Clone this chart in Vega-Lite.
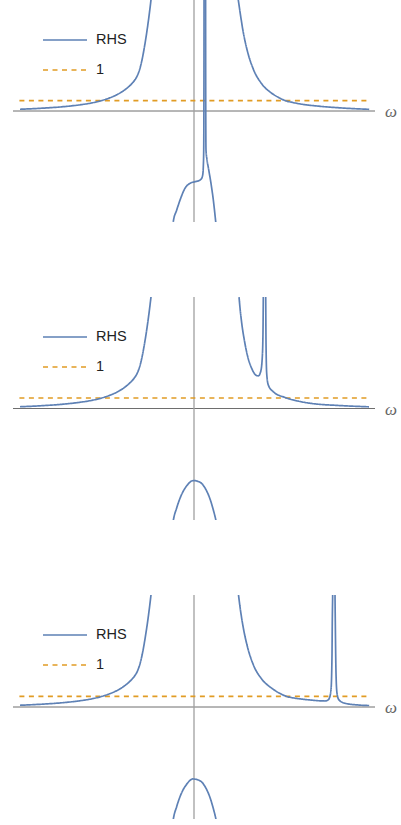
{
  "$schema": "https://vega.github.io/schema/vega-lite/v6.json",
  "padding": {"left": 13, "top": 0, "right": 0, "bottom": 0},
  "background": "white",
  "config": {"view": {"stroke": null}, "concat": {"spacing": 75}},
  "datasets": {
    "p1": [
      {"s":"1","b":"D","w":-3,"y":1},{"s":"1","b":"D","w":3,"y":1},
      {"s":"RHS","b":"L","w":-2.99,"y":0.165},{"s":"RHS","b":"L","w":-2.6,"y":0.27},{"s":"RHS","b":"L","w":-2.25,"y":0.41},{"s":"RHS","b":"L","w":-1.96,"y":0.59},{"s":"RHS","b":"L","w":-1.75,"y":0.78},{"s":"RHS","b":"L","w":-1.586,"y":1.0},{"s":"RHS","b":"L","w":-1.45,"y":1.25},{"s":"RHS","b":"L","w":-1.33,"y":1.54},{"s":"RHS","b":"L","w":-1.23,"y":1.86},{"s":"RHS","b":"L","w":-1.15,"y":2.19},{"s":"RHS","b":"L","w":-1.08,"y":2.55},{"s":"RHS","b":"L","w":-1.02,"y":2.94},{"s":"RHS","b":"L","w":-0.97,"y":3.42},{"s":"RHS","b":"L","w":-0.925,"y":4.14},{"s":"RHS","b":"L","w":-0.885,"y":5.1},{"s":"RHS","b":"L","w":-0.85,"y":6.17},{"s":"RHS","b":"L","w":-0.815,"y":7.39},{"s":"RHS","b":"L","w":-0.785,"y":8.56},{"s":"RHS","b":"L","w":-0.751,"y":10.04},{"s":"RHS","b":"L","w":-0.725,"y":11.29},
      {"s":"RHS","b":"R","w":0.735,"y":11.6},{"s":"RHS","b":"R","w":0.761,"y":10.6},{"s":"RHS","b":"R","w":0.79,"y":9.5},{"s":"RHS","b":"R","w":0.847,"y":7.5},{"s":"RHS","b":"R","w":0.916,"y":5.75},{"s":"RHS","b":"R","w":1.019,"y":4.0},{"s":"RHS","b":"R","w":1.163,"y":2.6},{"s":"RHS","b":"R","w":1.335,"y":1.7},{"s":"RHS","b":"R","w":1.45,"y":1.3},{"s":"RHS","b":"R","w":1.564,"y":1.0},{"s":"RHS","b":"R","w":1.7,"y":0.81},{"s":"RHS","b":"R","w":1.821,"y":0.68},{"s":"RHS","b":"R","w":2.165,"y":0.45},{"s":"RHS","b":"R","w":2.509,"y":0.3},{"s":"RHS","b":"R","w":3.01,"y":0.16},
      {"s":"RHS","b":"ML","w":-0.37,"y":-11.2},{"s":"RHS","b":"ML","w":-0.356,"y":-10.57},{"s":"RHS","b":"ML","w":-0.297,"y":-9.46},{"s":"RHS","b":"ML","w":-0.229,"y":-8.34},{"s":"RHS","b":"ML","w":-0.155,"y":-7.38},{"s":"RHS","b":"ML","w":-0.069,"y":-6.91},{"s":"RHS","b":"ML","w":0.017,"y":-6.75},{"s":"RHS","b":"ML","w":0.09,"y":-6.63},{"s":"RHS","b":"ML","w":0.13,"y":-6.45},{"s":"RHS","b":"ML","w":0.15,"y":-6.1},{"s":"RHS","b":"ML","w":0.16,"y":-5.32},{"s":"RHS","b":"ML","w":0.167,"y":-3.72},{"s":"RHS","b":"ML","w":0.17,"y":0},{"s":"RHS","b":"ML","w":0.172,"y":6},{"s":"RHS","b":"ML","w":0.173,"y":12},
      {"s":"RHS","b":"MR","w":0.199,"y":12},{"s":"RHS","b":"MR","w":0.2,"y":6},{"s":"RHS","b":"MR","w":0.202,"y":0},{"s":"RHS","b":"MR","w":0.206,"y":-3.72},{"s":"RHS","b":"MR","w":0.222,"y":-4.6},{"s":"RHS","b":"MR","w":0.246,"y":-5.4},{"s":"RHS","b":"MR","w":0.292,"y":-6.91},{"s":"RHS","b":"MR","w":0.332,"y":-8.5},{"s":"RHS","b":"MR","w":0.373,"y":-10.57},{"s":"RHS","b":"MR","w":0.385,"y":-11.2}
    ],
    "p2": [
      {"s":"1","b":"D","w":-3,"y":1},{"s":"1","b":"D","w":3,"y":1},
      {"s":"RHS","b":"L","w":-2.99,"y":0.165},{"s":"RHS","b":"L","w":-2.6,"y":0.27},{"s":"RHS","b":"L","w":-2.25,"y":0.41},{"s":"RHS","b":"L","w":-1.96,"y":0.59},{"s":"RHS","b":"L","w":-1.75,"y":0.78},{"s":"RHS","b":"L","w":-1.586,"y":1.0},{"s":"RHS","b":"L","w":-1.45,"y":1.25},{"s":"RHS","b":"L","w":-1.33,"y":1.54},{"s":"RHS","b":"L","w":-1.23,"y":1.86},{"s":"RHS","b":"L","w":-1.15,"y":2.19},{"s":"RHS","b":"L","w":-1.08,"y":2.55},{"s":"RHS","b":"L","w":-1.02,"y":2.94},{"s":"RHS","b":"L","w":-0.97,"y":3.42},{"s":"RHS","b":"L","w":-0.925,"y":4.14},{"s":"RHS","b":"L","w":-0.885,"y":5.1},{"s":"RHS","b":"L","w":-0.85,"y":6.17},{"s":"RHS","b":"L","w":-0.815,"y":7.39},{"s":"RHS","b":"L","w":-0.785,"y":8.56},{"s":"RHS","b":"L","w":-0.751,"y":10.04},{"s":"RHS","b":"L","w":-0.725,"y":11.29},
      {"s":"RHS","b":"M","w":-0.37,"y":-11.2},{"s":"RHS","b":"M","w":-0.356,"y":-10.67},{"s":"RHS","b":"M","w":-0.297,"y":-9.45},{"s":"RHS","b":"M","w":-0.211,"y":-8.15},{"s":"RHS","b":"M","w":-0.125,"y":-7.35},{"s":"RHS","b":"M","w":-0.012,"y":-6.85},{"s":"RHS","b":"M","w":0.103,"y":-7.01},{"s":"RHS","b":"M","w":0.189,"y":-7.55},{"s":"RHS","b":"M","w":0.275,"y":-8.6},{"s":"RHS","b":"M","w":0.33,"y":-9.6},{"s":"RHS","b":"M","w":0.378,"y":-10.67},{"s":"RHS","b":"M","w":0.39,"y":-11.0},
      {"s":"RHS","b":"RA","w":0.755,"y":12},{"s":"RHS","b":"RA","w":0.773,"y":10.66},{"s":"RHS","b":"RA","w":0.79,"y":9.6},{"s":"RHS","b":"RA","w":0.82,"y":8.11},{"s":"RHS","b":"RA","w":0.864,"y":6.53},{"s":"RHS","b":"RA","w":0.923,"y":4.93},{"s":"RHS","b":"RA","w":0.991,"y":3.82},{"s":"RHS","b":"RA","w":1.06,"y":3.19},{"s":"RHS","b":"RA","w":1.105,"y":3.1},{"s":"RHS","b":"RA","w":1.146,"y":3.51},{"s":"RHS","b":"RA","w":1.174,"y":4.94},{"s":"RHS","b":"RA","w":1.186,"y":7.51},{"s":"RHS","b":"RA","w":1.191,"y":10.66},{"s":"RHS","b":"RA","w":1.193,"y":12},
      {"s":"RHS","b":"RB","w":1.23,"y":12},{"s":"RHS","b":"RB","w":1.232,"y":10.66},{"s":"RHS","b":"RB","w":1.237,"y":6.52},{"s":"RHS","b":"RB","w":1.249,"y":3.34},{"s":"RHS","b":"RB","w":1.277,"y":2.23},{"s":"RHS","b":"RB","w":1.363,"y":1.59},{"s":"RHS","b":"RB","w":1.564,"y":1.05},{"s":"RHS","b":"RB","w":1.792,"y":0.7},{"s":"RHS","b":"RB","w":2.022,"y":0.48},{"s":"RHS","b":"RB","w":2.51,"y":0.28},{"s":"RHS","b":"RB","w":3.007,"y":0.16}
    ],
    "p3": [
      {"s":"1","b":"D","w":-3,"y":1},{"s":"1","b":"D","w":3,"y":1},
      {"s":"RHS","b":"L","w":-2.99,"y":0.165},{"s":"RHS","b":"L","w":-2.6,"y":0.27},{"s":"RHS","b":"L","w":-2.25,"y":0.41},{"s":"RHS","b":"L","w":-1.96,"y":0.59},{"s":"RHS","b":"L","w":-1.75,"y":0.78},{"s":"RHS","b":"L","w":-1.586,"y":1.0},{"s":"RHS","b":"L","w":-1.45,"y":1.25},{"s":"RHS","b":"L","w":-1.33,"y":1.54},{"s":"RHS","b":"L","w":-1.23,"y":1.86},{"s":"RHS","b":"L","w":-1.15,"y":2.19},{"s":"RHS","b":"L","w":-1.08,"y":2.55},{"s":"RHS","b":"L","w":-1.02,"y":2.94},{"s":"RHS","b":"L","w":-0.97,"y":3.42},{"s":"RHS","b":"L","w":-0.925,"y":4.14},{"s":"RHS","b":"L","w":-0.885,"y":5.1},{"s":"RHS","b":"L","w":-0.85,"y":6.17},{"s":"RHS","b":"L","w":-0.815,"y":7.39},{"s":"RHS","b":"L","w":-0.785,"y":8.56},{"s":"RHS","b":"L","w":-0.751,"y":10.04},{"s":"RHS","b":"L","w":-0.725,"y":11.29},
      {"s":"RHS","b":"M","w":-0.37,"y":-11.2},{"s":"RHS","b":"M","w":-0.356,"y":-10.65},{"s":"RHS","b":"M","w":-0.297,"y":-9.42},{"s":"RHS","b":"M","w":-0.211,"y":-8.1},{"s":"RHS","b":"M","w":-0.125,"y":-7.3},{"s":"RHS","b":"M","w":-0.02,"y":-6.81},{"s":"RHS","b":"M","w":0.103,"y":-6.98},{"s":"RHS","b":"M","w":0.189,"y":-7.52},{"s":"RHS","b":"M","w":0.275,"y":-8.57},{"s":"RHS","b":"M","w":0.33,"y":-9.57},{"s":"RHS","b":"M","w":0.378,"y":-10.65},{"s":"RHS","b":"M","w":0.39,"y":-11.0},
      {"s":"RHS","b":"RA","w":0.74,"y":11.8},{"s":"RHS","b":"RA","w":0.765,"y":10.6},{"s":"RHS","b":"RA","w":0.79,"y":9.5},{"s":"RHS","b":"RA","w":0.847,"y":7.5},{"s":"RHS","b":"RA","w":0.916,"y":5.75},{"s":"RHS","b":"RA","w":1.019,"y":4.0},{"s":"RHS","b":"RA","w":1.163,"y":2.65},{"s":"RHS","b":"RA","w":1.335,"y":1.78},{"s":"RHS","b":"RA","w":1.46,"y":1.33},{"s":"RHS","b":"RA","w":1.593,"y":1.0},{"s":"RHS","b":"RA","w":1.72,"y":0.85},{"s":"RHS","b":"RA","w":1.85,"y":0.75},{"s":"RHS","b":"RA","w":2.0,"y":0.66},{"s":"RHS","b":"RA","w":2.15,"y":0.59},{"s":"RHS","b":"RA","w":2.251,"y":0.57},{"s":"RHS","b":"RA","w":2.3,"y":0.65},{"s":"RHS","b":"RA","w":2.325,"y":0.83},{"s":"RHS","b":"RA","w":2.354,"y":1.62},{"s":"RHS","b":"RA","w":2.371,"y":4.81},{"s":"RHS","b":"RA","w":2.376,"y":8.0},{"s":"RHS","b":"RA","w":2.383,"y":10.7},{"s":"RHS","b":"RA","w":2.386,"y":12},
      {"s":"RHS","b":"RB","w":2.421,"y":12},{"s":"RHS","b":"RB","w":2.423,"y":10.6},{"s":"RHS","b":"RB","w":2.428,"y":8.0},{"s":"RHS","b":"RB","w":2.44,"y":3.22},{"s":"RHS","b":"RB","w":2.457,"y":1.31},{"s":"RHS","b":"RB","w":2.491,"y":0.67},{"s":"RHS","b":"RB","w":2.595,"y":0.35},{"s":"RHS","b":"RB","w":2.823,"y":0.19},{"s":"RHS","b":"RB","w":3.01,"y":0.14}
    ]
  },
  "vconcat": [
    {
      "width": 362, "height": 222,
      "layer": [
        {"data": {"values": [{}]}, "mark": {"type": "rule", "clip": true, "color": "#6e6e6e", "strokeWidth": 1}, "encoding": {"y": {"datum": 0, "type": "quantitative", "scale": {"domain": [-10.6, 10.6], "nice": false, "zero": false}, "axis": null}}},
        {"data": {"values": [{}]}, "mark": {"type": "rule", "clip": true, "color": "#a0a0a0", "strokeWidth": 1.3}, "encoding": {"x": {"datum": 0, "type": "quantitative", "scale": {"domain": [-3.11, 3.11], "nice": false, "zero": false}, "axis": null}}},
        {"data": {"name": "p1"}, "mark": {"type": "line", "clip": true, "strokeWidth": 1.7, "interpolate": "monotone"},
         "encoding": {
           "x": {"field": "w", "type": "quantitative", "scale": {"domain": [-3.11, 3.11], "nice": false, "zero": false}, "axis": null},
           "y": {"field": "y", "type": "quantitative", "scale": {"domain": [-10.6, 10.6], "nice": false, "zero": false}, "axis": null},
           "color": {"field": "s", "type": "nominal", "scale": {"domain": ["RHS", "1"], "range": ["#5E81B5", "#E19C24"]}, "legend": {"title": null, "orient": "none", "legendX": 29, "legendY": 17, "padding": 0, "symbolType": "stroke", "symbolSize": 1936, "symbolStrokeWidth": 1.7, "labelFont": "Liberation Sans", "labelFontSize": 14.5, "labelColor": "#222", "labelOffset": 8, "rowPadding": -14}},
           "strokeDash": {"field": "s", "type": "nominal", "scale": {"domain": ["RHS", "1"], "range": [[1, 0], [5, 4.5]]}, "legend": {"title": null, "orient": "none", "legendX": 29, "legendY": 17, "padding": 0, "symbolType": "stroke", "symbolSize": 1936, "symbolStrokeWidth": 1.7, "labelFont": "Liberation Sans", "labelFontSize": 14.5, "labelColor": "#222", "labelOffset": 8, "rowPadding": -14}},
           "detail": {"field": "b"}
         }},
        {"data": {"values": [{}]}, "mark": {"type": "text", "text": "ω", "align": "left", "baseline": "middle", "dx": 10, "dy": 1, "font": "Liberation Serif", "fontStyle": "italic", "fontSize": 17, "color": "#666"}, "encoding": {"x": {"datum": 3.11, "type": "quantitative"}, "y": {"datum": 0, "type": "quantitative"}}}
      ]
    },
    {
      "width": 362, "height": 223,
      "layer": [
        {"data": {"values": [{}]}, "mark": {"type": "rule", "clip": true, "color": "#6e6e6e", "strokeWidth": 1}, "encoding": {"y": {"datum": 0, "type": "quantitative", "scale": {"domain": [-10.6, 10.6], "nice": false, "zero": false}, "axis": null}}},
        {"data": {"values": [{}]}, "mark": {"type": "rule", "clip": true, "color": "#a0a0a0", "strokeWidth": 1.3}, "encoding": {"x": {"datum": 0, "type": "quantitative", "scale": {"domain": [-3.11, 3.11], "nice": false, "zero": false}, "axis": null}}},
        {"data": {"name": "p2"}, "mark": {"type": "line", "clip": true, "strokeWidth": 1.7, "interpolate": "monotone"},
         "encoding": {
           "x": {"field": "w", "type": "quantitative", "scale": {"domain": [-3.11, 3.11], "nice": false, "zero": false}, "axis": null},
           "y": {"field": "y", "type": "quantitative", "scale": {"domain": [-10.6, 10.6], "nice": false, "zero": false}, "axis": null},
           "color": {"field": "s", "type": "nominal", "scale": {"domain": ["RHS", "1"], "range": ["#5E81B5", "#E19C24"]}, "legend": {"title": null, "orient": "none", "legendX": 29, "legendY": 17, "padding": 0, "symbolType": "stroke", "symbolSize": 1936, "symbolStrokeWidth": 1.7, "labelFont": "Liberation Sans", "labelFontSize": 14.5, "labelColor": "#222", "labelOffset": 8, "rowPadding": -14}},
           "strokeDash": {"field": "s", "type": "nominal", "scale": {"domain": ["RHS", "1"], "range": [[1, 0], [5, 4.5]]}, "legend": {"title": null, "orient": "none", "legendX": 29, "legendY": 17, "padding": 0, "symbolType": "stroke", "symbolSize": 1936, "symbolStrokeWidth": 1.7, "labelFont": "Liberation Sans", "labelFontSize": 14.5, "labelColor": "#222", "labelOffset": 8, "rowPadding": -14}},
           "detail": {"field": "b"}
         }},
        {"data": {"values": [{}]}, "mark": {"type": "text", "text": "ω", "align": "left", "baseline": "middle", "dx": 10, "dy": 1, "font": "Liberation Serif", "fontStyle": "italic", "fontSize": 17, "color": "#666"}, "encoding": {"x": {"datum": 3.11, "type": "quantitative"}, "y": {"datum": 0, "type": "quantitative"}}}
      ]
    },
    {
      "width": 362, "height": 224,
      "layer": [
        {"data": {"values": [{}]}, "mark": {"type": "rule", "clip": true, "color": "#6e6e6e", "strokeWidth": 1}, "encoding": {"y": {"datum": 0, "type": "quantitative", "scale": {"domain": [-10.6, 10.6], "nice": false, "zero": false}, "axis": null}}},
        {"data": {"values": [{}]}, "mark": {"type": "rule", "clip": true, "color": "#a0a0a0", "strokeWidth": 1.3}, "encoding": {"x": {"datum": 0, "type": "quantitative", "scale": {"domain": [-3.11, 3.11], "nice": false, "zero": false}, "axis": null}}},
        {"data": {"name": "p3"}, "mark": {"type": "line", "clip": true, "strokeWidth": 1.7, "interpolate": "monotone"},
         "encoding": {
           "x": {"field": "w", "type": "quantitative", "scale": {"domain": [-3.11, 3.11], "nice": false, "zero": false}, "axis": null},
           "y": {"field": "y", "type": "quantitative", "scale": {"domain": [-10.6, 10.6], "nice": false, "zero": false}, "axis": null},
           "color": {"field": "s", "type": "nominal", "scale": {"domain": ["RHS", "1"], "range": ["#5E81B5", "#E19C24"]}, "legend": {"title": null, "orient": "none", "legendX": 29, "legendY": 17, "padding": 0, "symbolType": "stroke", "symbolSize": 1936, "symbolStrokeWidth": 1.7, "labelFont": "Liberation Sans", "labelFontSize": 14.5, "labelColor": "#222", "labelOffset": 8, "rowPadding": -14}},
           "strokeDash": {"field": "s", "type": "nominal", "scale": {"domain": ["RHS", "1"], "range": [[1, 0], [5, 4.5]]}, "legend": {"title": null, "orient": "none", "legendX": 29, "legendY": 17, "padding": 0, "symbolType": "stroke", "symbolSize": 1936, "symbolStrokeWidth": 1.7, "labelFont": "Liberation Sans", "labelFontSize": 14.5, "labelColor": "#222", "labelOffset": 8, "rowPadding": -14}},
           "detail": {"field": "b"}
         }},
        {"data": {"values": [{}]}, "mark": {"type": "text", "text": "ω", "align": "left", "baseline": "middle", "dx": 10, "dy": 1, "font": "Liberation Serif", "fontStyle": "italic", "fontSize": 17, "color": "#666"}, "encoding": {"x": {"datum": 3.11, "type": "quantitative"}, "y": {"datum": 0, "type": "quantitative"}}}
      ]
    }
  ],
  "resolve": {"scale": {"color": "independent", "strokeDash": "independent"}, "legend": {"color": "independent", "strokeDash": "independent"}}
}
